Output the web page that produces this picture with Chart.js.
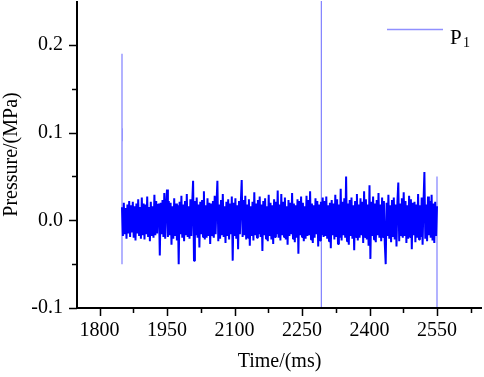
<!DOCTYPE html>
<html>
<head>
<meta charset="utf-8">
<script src="https://cdn.jsdelivr.net/npm/chart.js@4.4.0/dist/chart.umd.min.js"></script>
<style>
    body { margin: 0; background: #ffffff; }
    #wrap { width: 484px; height: 377px; }
</style>
</head>
<body>
<div id="wrap"><canvas id="chartPresion" width="484" height="377"></canvas></div>
<script>
// ===== Señal de presión P1 =====

// muestras cada 2 ms desde 1850 ms, en milésimas de MPa
const inicioMs = 1850;
const pasoMs = 2;
const presionP1 = [
    15,-18,20,-16,14,-21,18,-15,22,-19,17,-14,21,-20,16,-23,19,-15,24,-18,15,-21,26,-17,19,
    -22,18,-16,27,-19,15,-24,21,-18,16,-20,29,-17,22,-15,18,19,-40,20,-16,23,-19,31,-21,17,
    35,-19,22,-17,20,-28,16,-21,25,-18,19,-23,17,-50,21,-16,28,-20,18,-24,22,-17,30,-19,16,
    -21,24,-18,19,45,-46,22,-17,26,-20,18,-31,21,-16,23,-19,33,-22,17,-20,25,-18,20,-27,19,
    -17,22,-20,28,-16,19,45,-24,18,-21,23,-17,30,-19,16,-26,21,-18,24,-22,19,-16,27,-46,20,
    -18,25,-21,17,-33,22,-16,20,46,-19,23,-17,28,-22,18,-20,24,-29,16,-18,21,-23,32,-17,19,
    -20,23,-16,27,-19,18,-35,22,-17,25,-21,16,-24,29,-18,20,-22,17,-27,24,-19,21,-16,34,-20,
    18,-23,30,-17,21,-19,26,-22,16,-28,23,-18,20,-16,31,-21,19,-25,17,-20,24,-38,22,-17,27,
    -19,20,-24,16,-21,28,-18,23,-17,33,-22,19,-26,17,-20,25,-16,22,-30,18,-23,21,-17,26,-19,
    22,-18,27,-21,17,-24,20,-32,23,-17,19,-22,29,-19,24,-27,18,-20,36,-23,21,-17,25,-20,50,
    -24,19,-28,23,-18,26,-21,17,-34,22,-19,30,-23,18,-20,25,-17,21,-26,33,-19,24,-22,18,-29,
    40,-44,21,-18,27,-22,19,-25,23,-17,31,-20,18,-24,26,-19,22,-27,-50,20,-18,29,-21,17,-25,
    23,-19,26,-22,18,-30,21,43,-24,19,-17,25,-20,32,-18,22,-26,17,-21,28,-19,24,-33,20,-17,
    21,-25,18,-20,30,-22,17,-19,26,-28,20,55,-21,18,-24,27,-17,22,-20,29,-23,19,-26,21,-18,
    16
];

// picos aislados (MPa)
const picosX = [1850, 1850.5, 2293, 2550];
const picosMin = [-0.05, 0.09, -0.11, -0.11];
const picosMax = [0.19, 0.105, 0.27, 0.05];

// marcas de los ejes
const ticksX = [1800, 1950, 2100, 2250, 2400, 2550];
const ticksY = [-0.1, 0.0, 0.1, 0.2];

const fuente = 'Liberation Serif';

const puntosSenal = presionP1.map((v, i) => ({ x: inicioMs + i * pasoMs, y: v / 1000 }));

const puntosPicos = [];
picosX.forEach((x, i) => {
    puntosPicos.push({ x: x, y: picosMin[i] });
    puntosPicos.push({ x: x, y: picosMax[i] });
    puntosPicos.push({ x: x, y: null });
});

// ejes, marcas menores y leyenda
const ejesPlugin = {
    id: 'ejes',
    afterDraw(chart) {
        const ctx = chart.ctx;
        const a = chart.chartArea;
        const sx = chart.scales.x;
        const sy = chart.scales.y;
        ctx.save();
        ctx.strokeStyle = '#000';
        ctx.lineWidth = 2;
        ctx.beginPath();
        ctx.moveTo(a.left, a.top);
        ctx.lineTo(a.left, a.bottom);
        ctx.lineTo(a.right, a.bottom);
        ctx.stroke();

        ctx.lineWidth = 1.5;
        ctx.beginPath();
        for (let v = 1800; v <= 2625; v += 75) {
            const px = Math.round(sx.getPixelForValue(v)) + 0.5;
            const largo = (v - 1800) % 150 === 0 ? 8 : 5;
            ctx.moveTo(px, a.bottom);
            ctx.lineTo(px, a.bottom + largo);
        }
        for (let k = -2; k <= 4; k++) {
            const v = k * 0.05;
            const py = Math.round(sy.getPixelForValue(v)) + 0.5;
            const largo = k % 2 === 0 ? 8 : 5;
            ctx.moveTo(a.left, py);
            ctx.lineTo(a.left - largo, py);
        }
        ctx.stroke();

        // leyenda
        const ly = a.top + 28.5;
        ctx.strokeStyle = '#9090ff';
        ctx.lineWidth = 1.5;
        ctx.beginPath();
        ctx.moveTo(a.right - 95, ly);
        ctx.lineTo(a.right - 39, ly);
        ctx.stroke();
        ctx.fillStyle = '#000';
        ctx.textBaseline = 'alphabetic';
        ctx.font = '21px "' + fuente + '"';
        ctx.fillText('P', a.right - 32, ly + 14);
        ctx.font = '14px "' + fuente + '"';
        ctx.fillText('1', a.right - 19, ly + 17);
        ctx.restore();
    }
};

new Chart(document.getElementById('chartPresion'), {
    type: 'line',
    data: {
        datasets: [
            {
                label: 'P1',
                data: puntosSenal,
                borderColor: '#0000ff',
                borderWidth: 2,
                borderJoinStyle: 'bevel',
                pointRadius: 0,
                tension: 0
            },
            {
                label: 'picos',
                data: puntosPicos,
                borderColor: '#8080ff',
                borderWidth: 1.2,
                pointRadius: 0,
                spanGaps: false,
                tension: 0
            }
        ]
    },
    options: {
        responsive: false,
        animation: false,
        layout: { padding: { top: 1, right: 2, left: 0, bottom: 0 } },
        plugins: {
            legend: { display: false },
            tooltip: { enabled: false }
        },
        scales: {
            x: {
                type: 'linear',
                min: 1750,
                max: 2650,
                afterFit: function(scale) {
                    scale.height = 69;
                    scale.paddingLeft = 0;
                    scale.paddingRight = 0;
                },
                afterBuildTicks: function(scale) {
                    scale.ticks = ticksX.map(v => ({ value: v }));
                },
                grid: { display: false, drawTicks: false },
                border: { display: false },
                ticks: {
                    autoSkip: false,
                    maxRotation: 0,
                    padding: 11,
                    color: '#000',
                    font: { family: fuente, size: 20 },
                    callback: v => String(v)
                },
                title: {
                    display: true,
                    text: 'Time/(ms)',
                    color: '#000',
                    font: { family: fuente, size: 20 },
                    padding: { top: 0, bottom: 3 }
                }
            },
            y: {
                type: 'linear',
                min: -0.1,
                max: 0.25,
                afterFit: function(scale) {
                    scale.width = 77;
                    scale.paddingTop = 0;
                    scale.paddingBottom = 0;
                },
                afterBuildTicks: function(scale) {
                    scale.ticks = ticksY.map(v => ({ value: v }));
                },
                grid: { display: false, drawTicks: false },
                border: { display: false },
                ticks: {
                    autoSkip: false,
                    padding: 14,
                    color: '#000',
                    font: { family: fuente, size: 20 },
                    callback: v => v.toFixed(1)
                },
                title: {
                    display: true,
                    text: 'Pressure/(MPa)',
                    color: '#000',
                    font: { family: fuente, size: 20 },
                    padding: { top: 0, bottom: 0 }
                }
            }
        }
    },
    plugins: [ejesPlugin]
});
</script>
</body>
</html>
